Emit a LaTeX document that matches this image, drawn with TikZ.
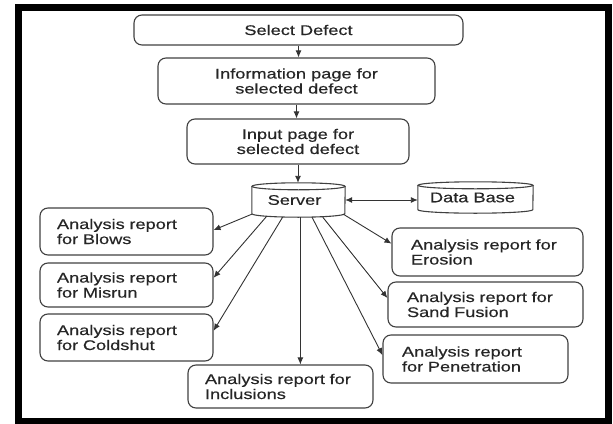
\documentclass[tikz,border=0pt]{standalone}
\usepackage{fontspec}
\setmainfont[FakeStretch=1.3,FakeBold=0.5]{Liberation Sans}
\usetikzlibrary{arrows.meta,calc}
\begin{document}
\begin{tikzpicture}[x=1pt,y=-1pt,
  box/.style={draw=black!75, line width=1.1pt, rounded corners=8pt, inner sep=0pt,
    align=center, font=\fontsize{14}{15}\selectfont, text=black!85},
  lbox/.style={box, align=left, minimum height=#1},
  arr/.style={draw=black!80, line width=0.9pt, -{Latex[length=7pt,width=6pt]}},
  darr/.style={draw=black!80, line width=0.9pt, {Latex[length=7pt,width=6pt]}-{Latex[length=7pt,width=6pt]}},
  cyl/.style={draw=black!75, line width=1.1pt},
  cyltext/.style={inner sep=0pt, font=\fontsize{14}{15}\selectfont, text=black!85},
]
\useasboundingbox (0,0) rectangle (613,423);
\draw[line width=7pt] (18,7.5) rectangle (608.5,421);

\node[box, minimum width=329pt, minimum height=30pt] (sel) at (298.5,30) {Select Defect};
\node[box, minimum width=277pt, minimum height=46pt] (info) at (296.5,81) {Information page for\\selected defect};
\node[box, minimum width=222pt, minimum height=45pt] (inp) at (298,141.5) {Input page for\\selected defect};

% server cylinder
\node[cyltext, minimum width=93pt, minimum height=34pt] (srv) at (298.5,200) {\hspace*{-8pt}Server};
\draw[cyl] ($(srv.north)+(0,3.5)$) ellipse [x radius=46.5pt, y radius=3.5pt];
\draw[cyl] ($(srv.north west)+(0,3.5)$) -- ($(srv.south west)+(0,-3.5)$)
  arc[start angle=180, end angle=360, x radius=46.5pt, y radius=3.5pt]
  -- ($(srv.north east)+(0,3.5)$);
% database cylinder
\node[cyltext, minimum width=115pt, minimum height=31pt] (db) at (475.5,197.5) {\hspace*{-6pt}Data Base};
\draw[cyl] ($(db.north)+(0,3.5)$) ellipse [x radius=57.5pt, y radius=3.5pt];
\draw[cyl] ($(db.north west)+(0,3.5)$) -- ($(db.south west)+(0,-3.5)$)
  arc[start angle=180, end angle=360, x radius=57.5pt, y radius=3.5pt]
  -- ($(db.north east)+(0,3.5)$);

\node[lbox=47pt, text width=139pt, inner xsep=17pt] (blows) at (126.5,231.5) {Analysis report\\for Blows};
\node[lbox=44pt, text width=139pt, inner xsep=17pt] (misrun) at (126.5,285) {Analysis report\\for Misrun};
\node[lbox=47pt, text width=139pt, inner xsep=17pt] (cold) at (126.5,337.5) {Analysis report\\for Coldshut};
\node[lbox=43pt, text width=151pt, inner xsep=17pt] (incl) at (280.5,386.5) {Analysis report for\\Inclusions};
\node[lbox=48pt, text width=153pt, inner xsep=19pt] (eros) at (487.5,252) {Analysis report for\\Erosion};
\node[lbox=45pt, text width=157pt, inner xsep=19pt] (sand) at (485.5,304.5) {Analysis report for\\Sand Fusion};
\node[lbox=48pt, text width=147pt, inner xsep=19pt] (pen) at (475.5,359) {Analysis report\\for Penetration};

\draw[arr] (sel.south) -- (sel.south |- info.north);
\draw[arr] (info.south) -- (info.south |- inp.north);
\draw[arr] (inp.south) -- (inp.south |- srv.north);
\draw[darr] (srv.east) -- (srv.east -| db.west);

\draw[arr] ($(srv.south west)+(0,-3)$) -- ($(blows.north east)!0.47!(blows.south east)$);
\draw[arr] ($(srv.south west)!0.16!(srv.south east)+(0,-1)$) -- ($(misrun.north east)!0.34!(misrun.south east)$);
\draw[arr] ($(srv.south west)!0.33!(srv.south east)$) -- ($(cold.north east)!0.36!(cold.south east)$);
\coordinate (sv) at ($(srv.south west)!0.52!(srv.south east)$);
\draw[arr] (sv) -- (sv |- incl.north);
\draw[arr] ($(srv.south west)!0.645!(srv.south east)$) -- ($(pen.north west)!0.42!(pen.south west)$);
\draw[arr] ($(srv.south west)!0.76!(srv.south east)$) -- ($(sand.north west)!0.36!(sand.south west)$);
\draw[arr] ($(srv.south west)!0.98!(srv.south east)+(0,-3)$) -- ($(eros.north west)!0.33!(eros.south west)$);
\end{tikzpicture}
\end{document}
